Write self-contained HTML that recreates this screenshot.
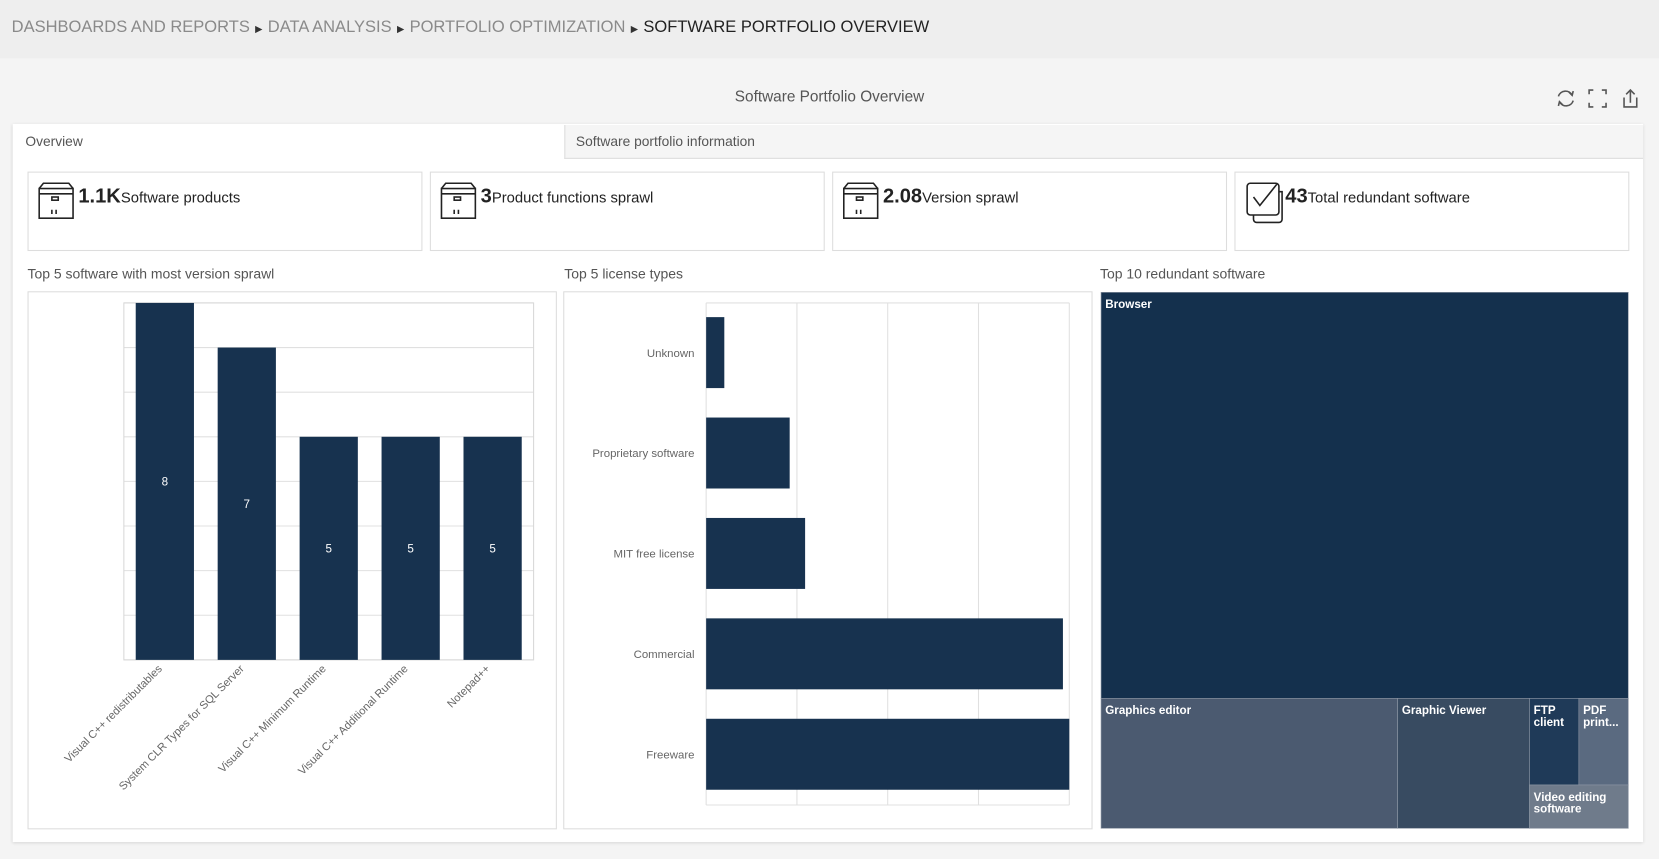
<!DOCTYPE html>
<html><head><meta charset="utf-8">
<style>
html,body{margin:0;padding:0;width:1659px;height:859px;overflow:hidden;background:#f4f4f4;}
#root{position:absolute;left:0;top:0;width:1567px;height:811px;transform-origin:0 0;transform:scale(1.0587,1.0592);font-family:"Segoe UI","Liberation Sans",sans-serif;}
.abs{position:absolute;}
.topbar{left:0;top:0;width:1567px;height:55px;background:#eeeeee;}
.crumb{left:11px;top:17px;font-size:15.6px;color:#8a8a8a;white-space:nowrap;}
.crumb b{font-weight:normal;color:#222;}
.crumb .sep{font-size:9px;color:#333;margin:0 5px;}
.ctitle{left:0;width:1567px;top:84px;text-align:center;font-size:14.5px;color:#555;}
.card{left:12px;top:117px;width:1540px;height:678px;background:#fff;box-shadow:0 1px 3px rgba(0,0,0,.15);}
.tab{top:118px;height:32px;font-size:13px;color:#555;line-height:32px;padding-left:10px;box-sizing:border-box;}
.kpi{top:162px;width:373px;height:75px;border:1px solid #ddd;box-sizing:border-box;background:#fff;}
.kpi .v{position:absolute;left:47px;top:12px;font-size:19px;font-weight:bold;color:#222;white-space:nowrap;}
.kpi .v span{font-size:14px;font-weight:normal;}
.kpi svg{position:absolute;left:9px;top:9px;}
.stitle{top:251px;font-size:13.2px;color:#555;}
.box{top:275px;width:500px;height:508px;border:1px solid #ddd;box-sizing:border-box;}
</style></head><body>
<div id="root">
<div class="abs topbar"></div>
<div class="abs crumb"><span>DASHBOARDS AND REPORTS</span><span class="sep">▶</span><span>DATA ANALYSIS</span><span class="sep">▶</span><span>PORTFOLIO OPTIMIZATION</span><span class="sep">▶</span><b>SOFTWARE PORTFOLIO OVERVIEW</b></div>
<div class="abs ctitle">Software Portfolio Overview</div>
<svg class="abs" style="left:1468px;top:82px" width="90" height="22">
 <g fill="none" stroke="#555" stroke-width="1.5"><path d="M4 9 A7 7 0 0 1 17 8"/><path d="M18 13 A7 7 0 0 1 5 14"/><path d="M14 5 L17 8 L18 4"/><path d="M8 17 L5 14 L4 18"/></g>
 <g fill="none" stroke="#555" stroke-width="1.5"><path d="M33 7V3h4M45 3h4v4M49 15v4h-4M37 19h-4v-4"/></g>
 <g fill="none" stroke="#555" stroke-width="1.5"><path d="M66 10v9h12v-9M72 15V3M68 7l4-4 4 4"/></g>
</svg>
<div class="abs card"></div>
<div class="abs tab" style="left:14px;width:519px;background:#fff;">Overview</div>
<div class="abs tab" style="left:533px;width:1019px;background:#f5f5f5;border-bottom:1px solid #ddd;border-left:1px solid #ddd;">Software portfolio information</div>

<div class="abs kpi" style="left:26px"><svg width="36" height="36"><g fill="none" stroke="#222" stroke-width="1.5"><rect x="1" y="6" width="32" height="28"/><path d="M1 6L5 1h24l4 5M1 11h32"/><rect x="13" y="14" width="6" height="3"/><path d="M13 26v4M17 26v4"/></g></svg><div class="v">1.1K<span>Software products</span></div></div>
<div class="abs kpi" style="left:406px"><svg width="36" height="36"><g fill="none" stroke="#222" stroke-width="1.5"><rect x="1" y="6" width="32" height="28"/><path d="M1 6L5 1h24l4 5M1 11h32"/><rect x="13" y="14" width="6" height="3"/><path d="M13 26v4M17 26v4"/></g></svg><div class="v" style="left:47px">3<span>Product functions sprawl</span></div></div>
<div class="abs kpi" style="left:786px"><svg width="36" height="36"><g fill="none" stroke="#222" stroke-width="1.5"><rect x="1" y="6" width="32" height="28"/><path d="M1 6L5 1h24l4 5M1 11h32"/><rect x="13" y="14" width="6" height="3"/><path d="M13 26v4M17 26v4"/></g></svg><div class="v">2.08<span>Version sprawl</span></div></div>
<div class="abs kpi" style="left:1166px"><svg width="40" height="40"><g fill="none" stroke="#222" stroke-width="1.5"><rect x="2" y="1" width="30" height="30" rx="3"/><path d="M32 9h3v26a3 3 0 0 1-3 3H11a3 3 0 0 1-3-3v-4"/><path d="M8 14l6 8 16-20"/></g></svg><div class="v">43<span>Total redundant software</span></div></div>

<div class="abs stitle" style="left:26px">Top 5 software with most version sprawl</div>
<div class="abs stitle" style="left:533px">Top 5 license types</div>
<div class="abs stitle" style="left:1039px">Top 10 redundant software</div>
<div class="abs box" style="left:26px"></div>
<div class="abs box" style="left:532px"></div>

<svg id="chart" class="abs" style="left:0;top:0" width="1567" height="811"></svg>
</div>
<script>
const swNames=["Visual C++ redistributables","System CLR Types for SQL Server","Visual C++ Minimum Runtime","Visual C++ Additional Runtime","Notepad++"];
const swValues=[8,7,5,5,5];
const vTicks=[0,1,2,3,4,5,6,7,8];
const licNames=["Unknown","Proprietary software","MIT free license","Commercial","Freeware"];
const licValues=[20,92,109,393,400];
const licTicks=[0,100,200,300,400];
const tmNames=["Browser","Graphics editor","Graphic Viewer","FTP client","PDF print...","Video editing software"];
const tmValues=[50,9,4,1,1,1];
const tmColors=["#14304d","#4b5a70","#384b61","#1f3a58","#5a6a80","#6f7b8b"];

const NS="http://www.w3.org/2000/svg";
const svg=document.getElementById('chart');
function mk(t,a,p){const e=document.createElementNS(NS,t);for(const k in a)e.setAttribute(k,a[k]);(p||svg).appendChild(e);return e;}

// Chart 1
const c1={x0:117,x1:504,y0:286,y1:623,max:8};
const y1s=v=>c1.y1-(v/c1.max)*(c1.y1-c1.y0);
const bw=(c1.x1-c1.x0)/swNames.length;
vTicks.forEach(t=>{const l=mk('line',{x1:c1.x0,x2:c1.x1,y1:y1s(t),y2:y1s(t),stroke:'#e0e0e0'});

});
mk('rect',{x:c1.x0,y:c1.y0,width:c1.x1-c1.x0,height:c1.y1-c1.y0,fill:'none',stroke:'#d8d8d8'});
swValues.forEach((v,i)=>{
 const cx=c1.x0+bw*(i+0.5);
 const r=mk('rect',{x:cx-27.5,y:y1s(v),width:55,height:c1.y1-y1s(v),fill:'#17324f'});
 
 
 const t=mk('text',{x:cx,y:(y1s(v)+c1.y1)/2+4,'text-anchor':'middle','font-size':11,fill:'#fff','font-family':'Liberation Sans, sans-serif'});t.textContent=v;
 
 
 const ax=cx-2, ay=c1.y1+9;
 const lb=mk('text',{x:ax,y:ay,'text-anchor':'end','font-size':10.5,fill:'#666','font-family':'Liberation Sans, sans-serif',transform:`rotate(-45 ${ax} ${ay})`});lb.textContent=swNames[i];
 
 
});

// Chart 2
const c2={x0:667,x1:1010,y0:286,y1:760,max:400};
const xs=v=>c2.x0+(v/c2.max)*(c2.x1-c2.x0);
const bh=(c2.y1-c2.y0)/licNames.length;
licTicks.forEach(t=>{const l=mk('line',{x1:xs(t),x2:xs(t),y1:c2.y0,y2:c2.y1,stroke:'#e0e0e0'});

});
mk('line',{x1:c2.x0,x2:c2.x1,y1:c2.y0,y2:c2.y0,stroke:'#e0e0e0'});
mk('line',{x1:c2.x0,x2:c2.x1,y1:c2.y1,y2:c2.y1,stroke:'#e0e0e0'});
licValues.forEach((v,i)=>{
 const cy=c2.y0+bh*(i+0.5)-0.5;
 const r=mk('rect',{x:c2.x0,y:cy-33.5,width:xs(v)-c2.x0,height:67,fill:'#17324f'});
 
 
 const t=mk('text',{x:656,y:cy+4,'text-anchor':'end','font-size':10.8,fill:'#666','font-family':'Liberation Sans, sans-serif'});t.textContent=licNames[i];
 
 
});

// Treemap
const tm={x:1040,y:276,w:498,h:506};
const tot=tmValues.reduce((a,b)=>a+b,0);
const rects=[];
const bH=tm.h*(tot-tmValues[0])/tot;
rects.push([tm.x,tm.y,tm.w,tm.h-bH]);
const rowY=tm.y+tm.h-bH;
const restTot=tot-tmValues[0];
let cx=tm.x;
const g1=tmValues[1]/restTot*tm.w, g2=tmValues[2]/restTot*tm.w;
rects.push([cx,rowY,g1,bH]);cx+=g1;
rects.push([cx,rowY,g2,bH]);cx+=g2;
const gw=tm.x+tm.w-cx;
const gTot=tmValues[3]+tmValues[4]+tmValues[5];
const topH=bH*(tmValues[3]+tmValues[4])/gTot;
const f1=gw*tmValues[3]/(tmValues[3]+tmValues[4]);
rects.push([cx,rowY,f1,topH]);
rects.push([cx+f1,rowY,gw-f1,topH]);
rects.push([cx,rowY+topH,gw,bH-topH]);
rects.forEach((r,i)=>{
 const e=mk('rect',{x:r[0],y:r[1],width:r[2],height:r[3],fill:tmColors[i],stroke:'#8a94a2','stroke-width':0.6});
 
 
 const words=(i===3||i===4)?tmNames[i].split(' '):(i===5?['Video editing','software']:[tmNames[i]]);
 words.forEach((w,k)=>{const t=mk('text',{x:r[0]+4,y:r[1]+15+k*11,'font-size':11,'font-weight':'bold',fill:'#fff','font-family':'Liberation Sans, sans-serif'});t.textContent=w;
 
 });
});
</script>
</body></html>
